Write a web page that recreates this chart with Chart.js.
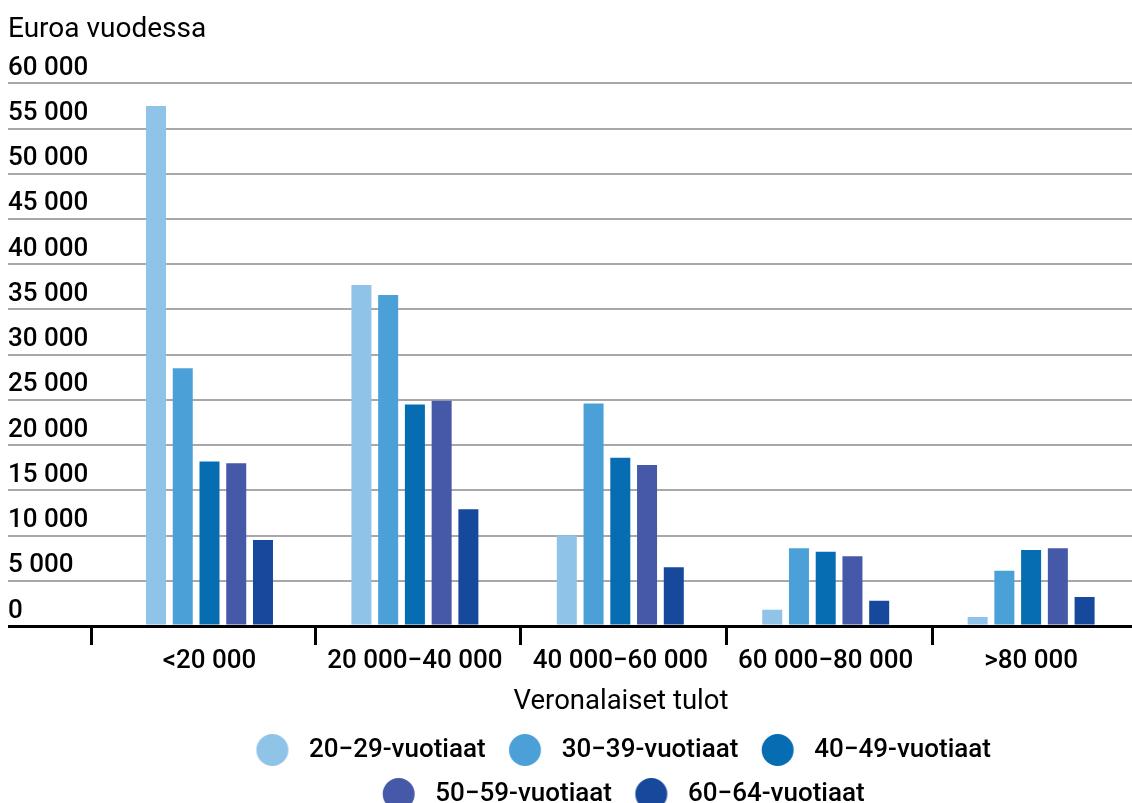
<!DOCTYPE html>
<html lang="fi">
<head>
<meta charset="utf-8">
<title>Euroa vuodessa</title>
<script src="https://cdn.jsdelivr.net/npm/chart.js@4.4.1/dist/chart.umd.min.js"></script>
<style>
  html, body { margin: 0; padding: 0; background: #fff; overflow: hidden; }
  #wrap { width: 1132px; height: 817px; }
</style>
</head>
<body>
<div id="wrap"><canvas id="c" width="1132" height="817"></canvas></div>
<script>
// ---- data ----
const categories = ['<20 000', '20 000\u221240 000', '40 000\u221260 000', '60 000\u221280 000', '>80 000'];
const seriesNames = ['20\u221229-vuotiaat', '30\u221239-vuotiaat', '40\u221249-vuotiaat', '50\u221259-vuotiaat', '60\u221264-vuotiaat'];
const age20to29 = [57500, 37700, 10000, 1800, 1000];
const age30to39 = [28500, 36600, 24600, 8600, 6100];
const age40to49 = [18200, 24500, 18600, 8200, 8400];
const age50to59 = [18000, 24900, 17800, 7700, 8600];
const age60to64 = [9500, 12900, 6500, 2800, 3200];
const yAxisTitle = 'Euroa vuodessa';
const xAxisTitle = 'Veronalaiset tulot';

// ---- styling ----
const colors = ['#8fc3e8', '#4ba0d8', '#066db3', '#4659a8', '#16489c'];
const seriesValues = [age20to29, age30to39, age40to49, age50to59, age60to64];
const gridGrey = '#a8a8a8';

function makeMarker(color) {
  const c = document.createElement('canvas');
  c.width = 44; c.height = 34;
  const g = c.getContext('2d');
  g.fillStyle = color;
  g.beginPath();
  g.arc(20.8, 17, 16, 0, Math.PI * 2);
  g.fill();
  return c;
}
const markers = colors.map(makeMarker);

const fmt = v => String(v).replace(/\B(?=(\d{3})+(?!\d))/g, ' ');

Chart.defaults.font.family = 'Roboto';
Chart.defaults.color = '#000';

const datasets = seriesNames.map((name, i) => ({
  label: name,
  data: seriesValues[i].map((v, k) => ({ x: k, y: v })),
  backgroundColor: colors[i],
  borderWidth: 0,
  categoryPercentage: 0.651,
  barPercentage: 0.748,
  xAxisID: 'x',
  yAxisID: 'y'
}));

const xMin = -0.4844, xMax = 4.4912;

new Chart(document.getElementById('c'), {
  type: 'bar',
  data: { datasets },
  options: {
    responsive: false,
    animation: false,
    devicePixelRatio: 1,
    layout: { padding: { left: 8, right: 0, top: 0, bottom: 0 } },
    plugins: {
      tooltip: { enabled: false },
      title: {
        display: true,
        text: yAxisTitle,
        align: 'start',
        color: '#000',
        font: { size: 28, weight: '400' },
        padding: { top: 12.7, bottom: 37 }
      },
      legend: {
        position: 'bottom',
        fullSize: false,
        align: 'center',
        labels: {
          usePointStyle: true,
          pointStyleWidth: 45,
          padding: 18,
          color: '#000',
          font: { size: 26, weight: '500' },
          generateLabels(chart) {
            const items = Chart.defaults.plugins.legend.labels.generateLabels(chart);
            items.forEach(it => { it.pointStyle = markers[it.datasetIndex]; });
            return items;
          }
        }
      }
    },
    scales: {
      y: {
        type: 'linear',
        position: 'left',
        min: 0,
        max: 60000,
        afterFit(scale) { scale.width = 102; },
        ticks: {
          stepSize: 5000,
          crossAlign: 'far',
          labelOffset: -15,
          padding: 0,
          color: '#000',
          font: { size: 26, weight: '500' },
          callback: v => fmt(v)
        },
        grid: {
          drawTicks: true,
          tickLength: 102,
          color: ctx => (ctx.tick && ctx.tick.value === 0) ? '#000' : gridGrey,
          tickColor: ctx => (ctx.tick && ctx.tick.value === 0) ? '#000' : gridGrey,
          lineWidth: ctx => (ctx.tick && ctx.tick.value === 0) ? 3 : 2,
          tickWidth: ctx => (ctx.tick && ctx.tick.value === 0) ? 3 : 2
        },
        border: { display: false }
      },
      xb: {
        type: 'linear',
        position: 'bottom',
        weight: 0,
        offset: false,
        min: xMin,
        max: xMax,
        afterBuildTicks(scale) {
          scale.ticks = [-0.5735, 0.517, 1.512, 2.519, 3.519].map(v => ({ value: v }));
        },
        ticks: { display: false },
        grid: {
          offset: false,
          drawOnChartArea: false,
          drawTicks: true,
          tickLength: 19,
          tickColor: '#000',
          tickWidth: 3,
          color: '#000',
          lineWidth: 3
        },
        border: { display: true, color: '#000', width: 3 }
      },
      x: {
        type: 'linear',
        position: 'bottom',
        weight: 1,
        offset: false,
        min: xMin,
        max: xMax,
        afterBuildTicks(scale) {
          scale.ticks = categories.map((_, i) => ({ value: i }));
        },
        ticks: {
          autoSkip: false,
          maxRotation: 0,
          padding: 1,
          color: '#000',
          font: { size: 26, weight: '500' },
          callback: v => categories[v]
        },
        grid: { display: false, drawTicks: false, offset: false },
        border: { display: false },
        title: {
          display: true,
          text: xAxisTitle,
          color: '#000',
          font: { size: 27.5, weight: '400' },
          padding: { top: 7.8, bottom: 0 }
        }
      }
    }
  }
});
</script>
</body>
</html>
